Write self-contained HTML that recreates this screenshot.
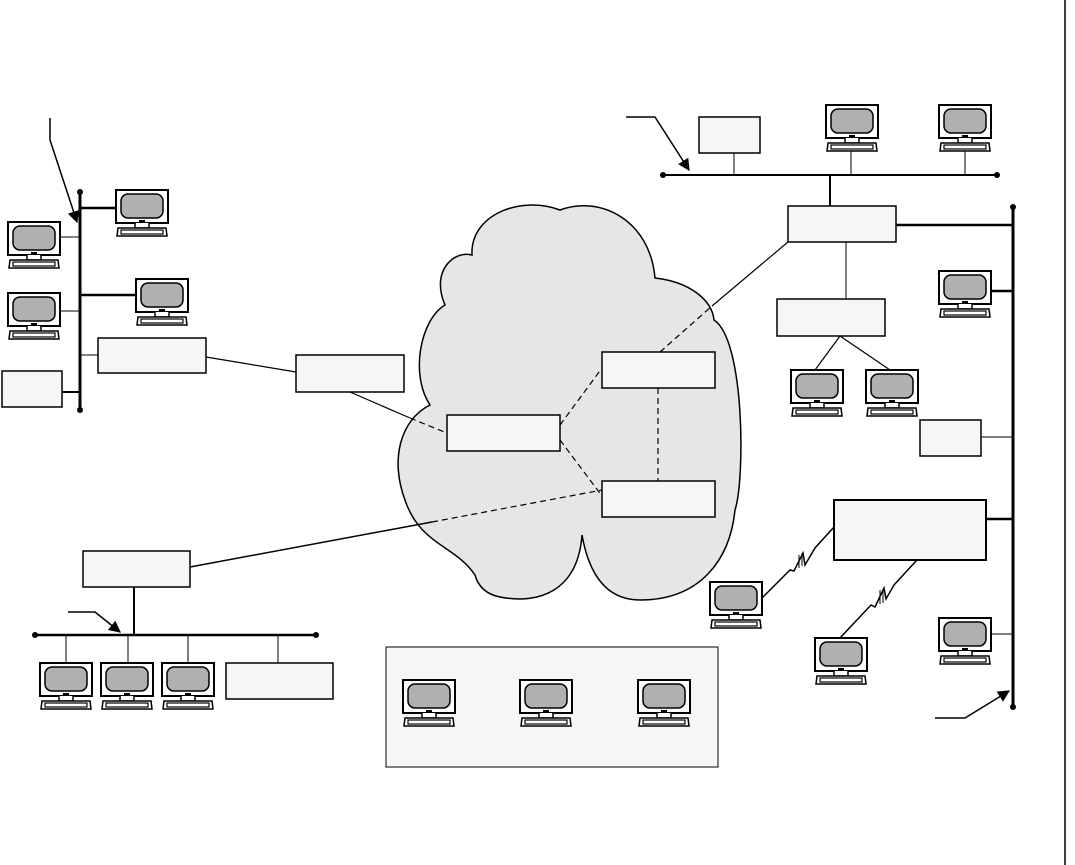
<!DOCTYPE html>
<html><head><style>html,body{margin:0;padding:0;background:#fff}svg{display:block}</style></head><body>
<svg width="1075" height="865" viewBox="0 0 1075 865" xmlns="http://www.w3.org/2000/svg">
<defs>
<g id="pc">
<rect x="0" y="0" width="52" height="33" fill="#fff" stroke="#000" stroke-width="2"/>
<rect x="5" y="4" width="42" height="24" rx="7" fill="#b0b0b0" stroke="#000" stroke-width="1.5"/>
<path d="M19,33 L19,38 L33,38 L33,33" fill="#fff" stroke="#000" stroke-width="1.5"/>
<rect x="23" y="30" width="6" height="2" fill="#000"/>
<path d="M2,38 L50,38 L51,46 L1,46 Z" fill="#fff" stroke="#000" stroke-width="1.5"/>
<rect x="5" y="40" width="42" height="4" fill="#fff" stroke="#000" stroke-width="1.2"/>
</g>
<marker id="ah" viewBox="0 0 10 10" refX="9" refY="5" markerWidth="8" markerHeight="8" orient="auto"><path d="M0,0 L10,5 L0,10 Z" fill="#000"/></marker>
</defs>
<line x1="1065" y1="0" x2="1065" y2="865" stroke="#000" stroke-width="1.5"/>
<path d="M475,575 C455,545 420,545 405,500 C390,460 400,420 430,405 C410,375 420,320 445,305 C430,270 455,250 472,255 C470,215 520,195 560,210 C600,195 650,220 655,278 C690,282 712,300 714,320 C745,340 745,480 735,510 C730,560 700,600 640,600 C610,600 590,580 582,535 C578,590 540,605 500,597 C485,594 478,586 475,575 Z" fill="#e6e6e6" stroke="#000" stroke-width="1.5"/>
<g stroke="#000" fill="none">
<line x1="80" y1="192" x2="80" y2="410" stroke-width="3"/>
<line x1="80" y1="208" x2="116" y2="208" stroke-width="2.5"/>
<line x1="80" y1="295" x2="136" y2="295" stroke-width="2.5"/>
<line x1="60" y1="237" x2="80" y2="237" stroke-width="1"/>
<line x1="60" y1="311" x2="80" y2="311" stroke-width="1"/>
<line x1="80" y1="355" x2="98" y2="355" stroke-width="1"/>
<line x1="62" y1="392" x2="80" y2="392" stroke-width="2"/>
<polyline points="50,118 50,140 77,222" stroke-width="1.5" marker-end="url(#ah)"/>
<line x1="206" y1="357" x2="296" y2="372" stroke-width="1.2"/>
<line x1="350" y1="392" x2="410" y2="418" stroke-width="1.2"/>
<line x1="410" y1="418" x2="447" y2="433" stroke-width="1.2" stroke-dasharray="6,4"/>
<line x1="560" y1="425" x2="602" y2="368" stroke-width="1.2" stroke-dasharray="6,4"/>
<line x1="560" y1="440" x2="602" y2="496" stroke-width="1.2" stroke-dasharray="6,4"/>
<line x1="658" y1="388" x2="658" y2="481" stroke-width="1.2" stroke-dasharray="6,4"/>
<line x1="660" y1="352" x2="712" y2="306" stroke-width="1.2" stroke-dasharray="6,4"/>
<line x1="712" y1="306" x2="788" y2="242" stroke-width="1.2"/>
<line x1="190" y1="567" x2="432" y2="522" stroke-width="1.5"/>
<line x1="432" y1="522" x2="602" y2="490" stroke-width="1.2" stroke-dasharray="6,4"/>
<line x1="35" y1="635" x2="316" y2="635" stroke-width="2.5"/>
<line x1="134" y1="587" x2="134" y2="635" stroke-width="2"/>
<line x1="66" y1="635" x2="66" y2="663" stroke-width="1"/>
<line x1="128" y1="635" x2="128" y2="663" stroke-width="1"/>
<line x1="188" y1="635" x2="188" y2="663" stroke-width="1"/>
<line x1="278" y1="635" x2="278" y2="663" stroke-width="1"/>
<polyline points="68,612 95,612 120,632" stroke-width="1.5" marker-end="url(#ah)"/>
<line x1="663" y1="175" x2="997" y2="175" stroke-width="2"/>
<line x1="734" y1="153" x2="734" y2="175" stroke-width="1"/>
<line x1="851" y1="151" x2="851" y2="175" stroke-width="1"/>
<line x1="965" y1="151" x2="965" y2="175" stroke-width="1"/>
<line x1="830" y1="175" x2="830" y2="206" stroke-width="2"/>
<polyline points="626,117 655,117 689,170" stroke-width="1.5" marker-end="url(#ah)"/>
<line x1="1013" y1="207" x2="1013" y2="707" stroke-width="3"/>
<line x1="896" y1="225" x2="1013" y2="225" stroke-width="2.5"/>
<line x1="990" y1="291" x2="1013" y2="291" stroke-width="2.5"/>
<line x1="981" y1="437" x2="1013" y2="437" stroke-width="1"/>
<line x1="986" y1="519" x2="1013" y2="519" stroke-width="2.5"/>
<line x1="990" y1="634" x2="1013" y2="634" stroke-width="1"/>
<polyline points="935,718 965,718 1009,691" stroke-width="1.5" marker-end="url(#ah)"/>
<line x1="846" y1="242" x2="846" y2="299" stroke-width="1"/>
<line x1="840" y1="336" x2="815" y2="370" stroke-width="1.2"/>
<line x1="840" y1="336" x2="890" y2="370" stroke-width="1.2"/>
<polyline points="762,598 790,570 794,571 803,553 805,565 815,548 834,527" stroke-width="1.5"/>
<line x1="799" y1="555" x2="799" y2="568" stroke-width="1"/>
<line x1="802" y1="553" x2="802" y2="566" stroke-width="1"/>
<polyline points="840,638 871,605 875,607 884,588 886,599 894,585 917,560" stroke-width="1.5"/>
<line x1="880" y1="590" x2="880" y2="604" stroke-width="1"/>
<line x1="883" y1="589" x2="883" y2="603" stroke-width="1"/>
</g>
<g fill="#000">
<circle cx="80" cy="192" r="3"/><circle cx="80" cy="410" r="3"/>
<circle cx="35" cy="635" r="3"/><circle cx="316" cy="635" r="3"/>
<circle cx="663" cy="175" r="3"/><circle cx="997" cy="175" r="3"/>
<circle cx="1013" cy="207" r="3"/><circle cx="1013" cy="707" r="3"/>
</g>
<g fill="#f6f6f6" stroke="#000" stroke-width="1.5">
<rect x="98" y="338" width="108" height="35"/>
<rect x="2" y="371" width="60" height="36"/>
<rect x="296" y="355" width="108" height="37"/>
<rect x="447" y="415" width="113" height="36"/>
<rect x="602" y="352" width="113" height="36"/>
<rect x="602" y="481" width="113" height="36"/>
<rect x="83" y="551" width="107" height="36"/>
<rect x="226" y="663" width="107" height="36"/>
<rect x="699" y="117" width="61" height="36"/>
<rect x="788" y="206" width="108" height="36"/>
<rect x="777" y="299" width="108" height="37"/>
<rect x="920" y="420" width="61" height="36"/>
<rect x="834" y="500" width="152" height="60" stroke-width="2"/>
<rect x="386" y="647" width="332" height="120" stroke-width="1"/>
</g>
<use href="#pc" x="116" y="190"/><use href="#pc" x="8" y="222"/>
<use href="#pc" x="136" y="279"/><use href="#pc" x="8" y="293"/>
<use href="#pc" x="826" y="105"/><use href="#pc" x="939" y="105"/>
<use href="#pc" x="939" y="271"/><use href="#pc" x="791" y="370"/>
<use href="#pc" x="866" y="370"/><use href="#pc" x="710" y="582"/>
<use href="#pc" x="815" y="638"/><use href="#pc" x="939" y="618"/>
<use href="#pc" x="40" y="663"/><use href="#pc" x="101" y="663"/>
<use href="#pc" x="162" y="663"/><use href="#pc" x="403" y="680"/>
<use href="#pc" x="520" y="680"/><use href="#pc" x="638" y="680"/>
</svg>
</body></html>
